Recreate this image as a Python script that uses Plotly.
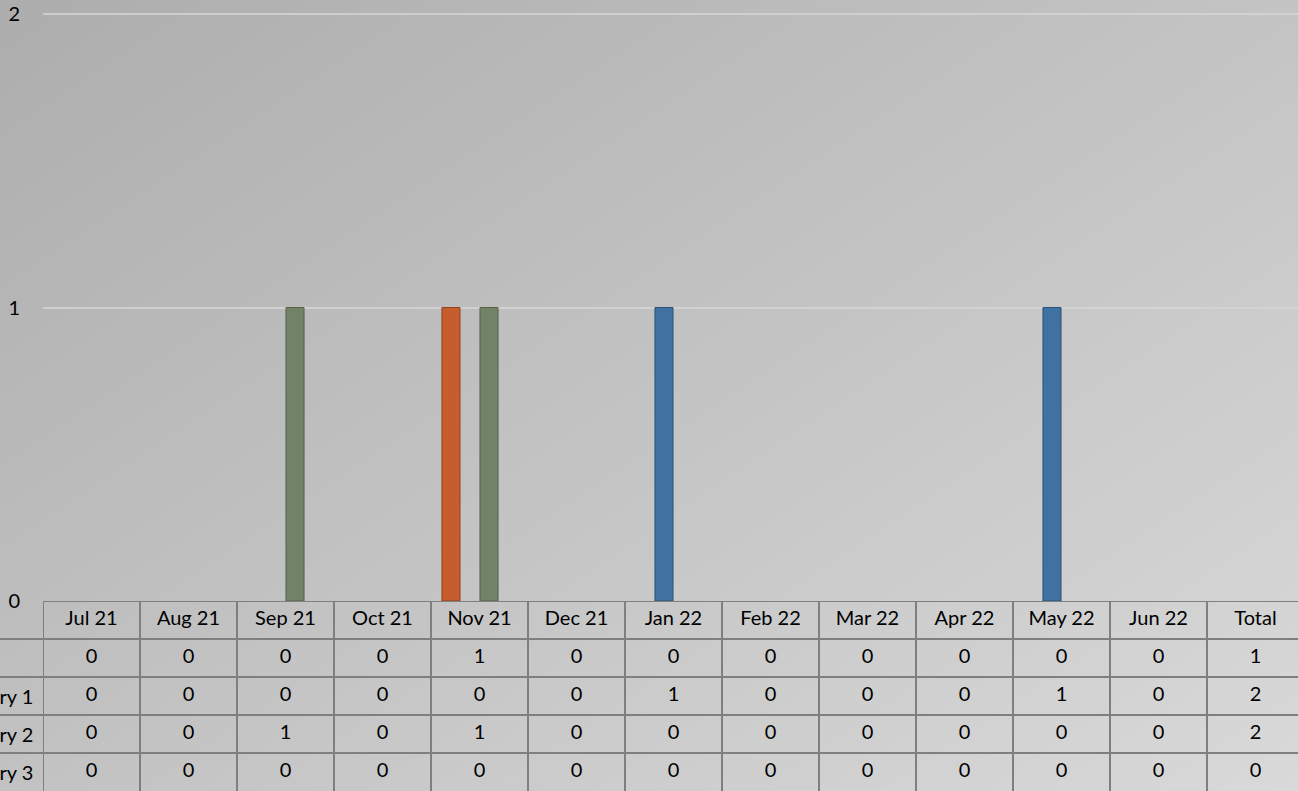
import plotly.graph_objects as go

# ---- data ----
months = ['Jul 21', 'Aug 21', 'Sep 21', 'Oct 21', 'Nov 21', 'Dec 21',
          'Jan 22', 'Feb 22', 'Mar 22', 'Apr 22', 'May 22', 'Jun 22']
table_cols = months + ['Total']
series_names = ['', 'Category 1', 'Category 2', 'Category 3']
series_a = [0, 0, 0, 0, 1, 0, 0, 0, 0, 0, 0, 0]
series_b = [0, 0, 0, 0, 0, 0, 1, 0, 0, 0, 1, 0]
series_c = [0, 0, 1, 0, 1, 0, 0, 0, 0, 0, 0, 0]
series_d = [0, 0, 0, 0, 0, 0, 0, 0, 0, 0, 0, 0]
series_values = [series_a, series_b, series_c, series_d]
y_ticks = [0, 1, 2]
y_max = 2

# ---- styles ----
W, H = 1298, 791
colors = ['#C65D2C', '#3F72A0', '#728266', '#9E9E9E']
edge_colors = ['#8F4320', '#2C5376', '#56634B', '#707070']
FONT = 'Lato, Calibri, Carlito, sans-serif'
FS = 20
TXT = '#000000'
LINE = '#7F7F7F'

fig = go.Figure()

# background gradient (diagonal, dark top-left to light bottom-right)
fig.add_trace(go.Heatmap(
    x=[0, 1], y=[0, 1], z=[[194, 217], [173, 196]],
    zmin=0, zmax=255, zsmooth='best',
    colorscale=[[0, 'rgb(0,0,0)'], [1, 'rgb(255,255,255)']],
    showscale=False, hoverinfo='skip', xaxis='x', yaxis='y'))

# bars
for i, (name, vals) in enumerate(zip(series_names, series_values)):
    fig.add_trace(go.Bar(
        x=months, y=vals, name=name or 'Series',
        marker=dict(color=colors[i],
                    line=dict(color=[edge_colors[i] if v > 0 else 'rgba(0,0,0,0)' for v in vals],
                              width=1)),
        xaxis='x2', yaxis='y2', showlegend=False))

# table text
n_rows = len(series_values) + 1
fig.add_trace(go.Scatter(
    x=table_cols, y=[n_rows - 0.5] * len(table_cols), text=table_cols,
    mode='text', textfont=dict(family=FONT, size=FS, color=TXT),
    xaxis='x2', yaxis='y3', showlegend=False, hoverinfo='skip', cliponaxis=True))
for r, vals in enumerate(series_values):
    row_vals = vals + [sum(vals)]
    fig.add_trace(go.Scatter(
        x=table_cols, y=[n_rows - 1.5 - r] * len(table_cols),
        text=[str(v) for v in row_vals],
        mode='text', textfont=dict(family=FONT, size=FS, color=TXT),
        xaxis='x2', yaxis='y3', showlegend=False, hoverinfo='skip', cliponaxis=True))

# row labels (clipped at the page's left edge like the reference)
left_px = 43
annotations = []
for r, name in enumerate(series_names):
    annotations.append(dict(
        x=(left_px - 8) / W, xref='paper', y=n_rows - 1.5 - r, yref='y3',
        text=name, showarrow=False, xanchor='right', yanchor='middle',
        font=dict(family=FONT, size=FS, color=TXT)))

# table lines
shapes = []
ncol = len(table_cols)
shapes.append(dict(type='line', xref='x2', yref='y3', x0=-0.5, x1=ncol - 0.5,
                   y0=n_rows, y1=n_rows, line=dict(color=LINE, width=2)))
for k in range(1, n_rows):
    shapes.append(dict(type='line', xref='paper', yref='y3', x0=0, x1=1,
                       y0=k, y1=k, line=dict(color=LINE, width=2)))
for k in range(ncol + 1):
    shapes.append(dict(type='line', xref='x2', yref='y3', x0=k - 0.5, x1=k - 0.5,
                       y0=0, y1=n_rows, line=dict(color=LINE, width=2)))

table_h = 190
top_px = 14
pad_px = 3
x_dom0 = left_px / W
col_px = 97
x_end = -0.5 + (W - left_px) / col_px
plot_px = H - table_h - top_px
y_top = y_max * (plot_px + pad_px) / plot_px

fig.update_layout(
    width=W, height=H,
    margin=dict(l=0, r=0, t=0, b=0, pad=0, autoexpand=False),
    paper_bgcolor='#C4C4C4', plot_bgcolor='rgba(0,0,0,0)',
    barmode='group', bargap=0.216, bargroupgap=0.05,
    showlegend=False,
    xaxis=dict(domain=[0, 1], range=[0, 1], visible=False, fixedrange=True,
               automargin=False),
    yaxis=dict(domain=[0, 1], range=[0, 1], visible=False, fixedrange=True,
               automargin=False),
    xaxis2=dict(domain=[x_dom0, 1], type='category', categoryorder='array',
                categoryarray=table_cols, range=[-0.5, x_end],
                showticklabels=False, showgrid=False, zeroline=False,
                showline=False, ticks='', anchor='y2', automargin=False),
    yaxis2=dict(domain=[table_h / H, 1 - (top_px - pad_px) / H], range=[0, y_top],
                tickvals=y_ticks, ticks='', showline=False, zeroline=False,
                showgrid=True, gridcolor='rgba(215,215,215,0.75)', gridwidth=2,
                tickfont=dict(family=FONT, size=FS, color=TXT),
                ticklabelstandoff=22, anchor='x2', automargin=False),
    yaxis3=dict(domain=[0, table_h / H], range=[0, n_rows], visible=False,
                anchor='x2', automargin=False),
    shapes=shapes,
    annotations=annotations,
)

fig.write_html('out.html', config={'displayModeBar': False},
               post_script="document.body.style.margin='0';document.body.style.overflow='hidden';")
